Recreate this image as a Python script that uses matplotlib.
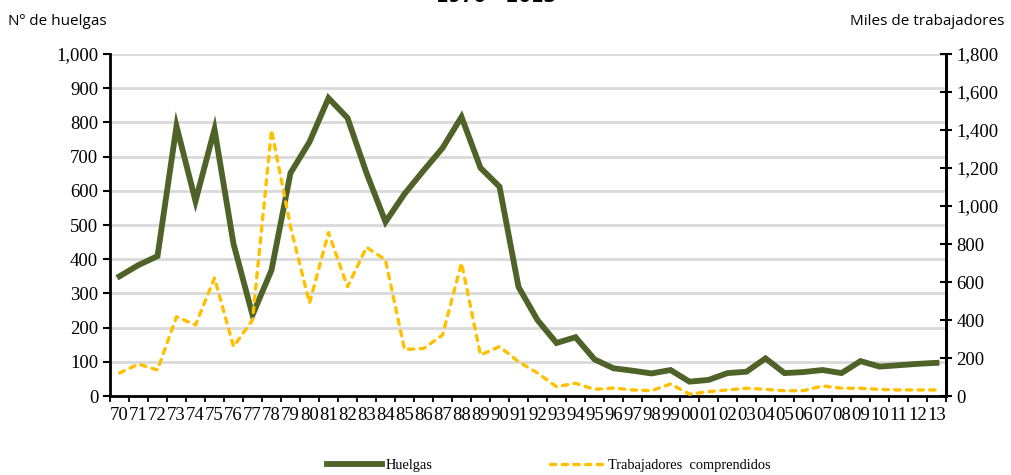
import numpy as np
import matplotlib
matplotlib.use("Agg")
import matplotlib.pyplot as plt
from matplotlib.ticker import FuncFormatter, FixedLocator

# Datos (1970 - 2013)
anios = list(range(1970, 2014))
etiquetas = [f"{a % 100:02d}" for a in anios]

huelgas = [350, 383, 409, 789, 570, 780, 445, 237, 368, 652,
           743, 871, 813, 652, 509, 591, 659, 725, 816, 667,
           612, 319, 222, 155, 172, 107, 81, 74, 66, 76,
           42, 47, 67, 71, 110, 67, 70, 76, 67, 102,
           86, 90, 94, 97]

trabajadores = [121, 168, 137, 417, 374, 621, 260, 400, 1400, 891,
                489, 860, 575, 783, 716, 245, 250, 321, 700, 216,
                260, 181, 121, 49, 67, 35, 42, 32, 28, 63,
                10, 23, 32, 41, 35, 28, 28, 53, 41, 41,
                35, 32, 32, 32]

verde = "#4F6228"
amarillo = "#FFC000"
serif = "Liberation Serif"

fig = plt.figure(figsize=(10.12, 4.75), dpi=100)
ax = fig.add_axes([0.1087, 0.1663, 0.8261, 0.72])
ax2 = ax.twinx()

x = np.arange(len(anios))
l1, = ax.plot(x, huelgas, color=verde, lw=4.2, solid_joinstyle="miter", zorder=3)
l2, = ax2.plot(x, trabajadores, color=amarillo, lw=2.4, dashes=(1.6, 1.9),
               dash_capstyle="round", zorder=3)

ax.set_xlim(-0.5, len(anios) - 0.5)
ax.set_ylim(0, 1000)
ax2.set_ylim(0, 1800)
ax.set_yticks(np.arange(0, 1001, 100))
ax2.set_yticks(np.arange(0, 1801, 200))
fmt = FuncFormatter(lambda v, p: f"{int(v):,}")
ax.yaxis.set_major_formatter(fmt)
ax2.yaxis.set_major_formatter(fmt)

# rejilla horizontal
for v in np.arange(100, 1001, 100):
    ax.axhline(v, color="#D9D9D9", lw=2, zorder=1)

ax.set_xticks(x)
ax.set_xticklabels(etiquetas, fontfamily=serif, fontsize=13.5)
ax.tick_params(axis="x", which="major", length=0, pad=8)
ax.xaxis.set_minor_locator(FixedLocator(np.arange(-0.5, len(anios), 1)))
ax.tick_params(axis="x", which="minor", length=4, width=1.3, direction="out")
ax.tick_params(axis="y", length=5, width=1.5, direction="out", labelsize=13.5)
ax2.tick_params(axis="y", length=8, width=1.5, direction="inout", labelsize=13.5)
for lab in ax.get_yticklabels() + ax2.get_yticklabels():
    lab.set_fontfamily(serif)

for a in (ax, ax2):
    a.spines["top"].set_visible(False)
    a.spines["left"].set_linewidth(2)
    a.spines["right"].set_linewidth(2)
    a.spines["bottom"].set_linewidth(2)
ax2.spines["left"].set_visible(False)
ax2.spines["bottom"].set_visible(False)

fig.text(0.008, 0.955, "Nº de huelgas", fontsize=11, fontfamily="Open Sans", va="center")
fig.text(0.992, 0.955, "Miles de trabajadores", fontsize=11, fontfamily="Open Sans",
         va="center", ha="right")
# título recortado en el borde superior, como en el original
fig.text(0.49, 0.9955, "1970 - 2013", fontsize=13, fontweight="bold", ha="center",
         va="baseline", color="black")

fig.legend([l1, l2], ["Huelgas", "Trabajadores  comprendidos"], loc="center",
           bbox_to_anchor=(0.5425, 0.021), ncol=2, frameon=False, handlelength=3.8,
           handletextpad=0.25, columnspacing=8.1,
           prop={"family": serif, "size": 10.4})

plt.savefig("out.png", dpi=100)
